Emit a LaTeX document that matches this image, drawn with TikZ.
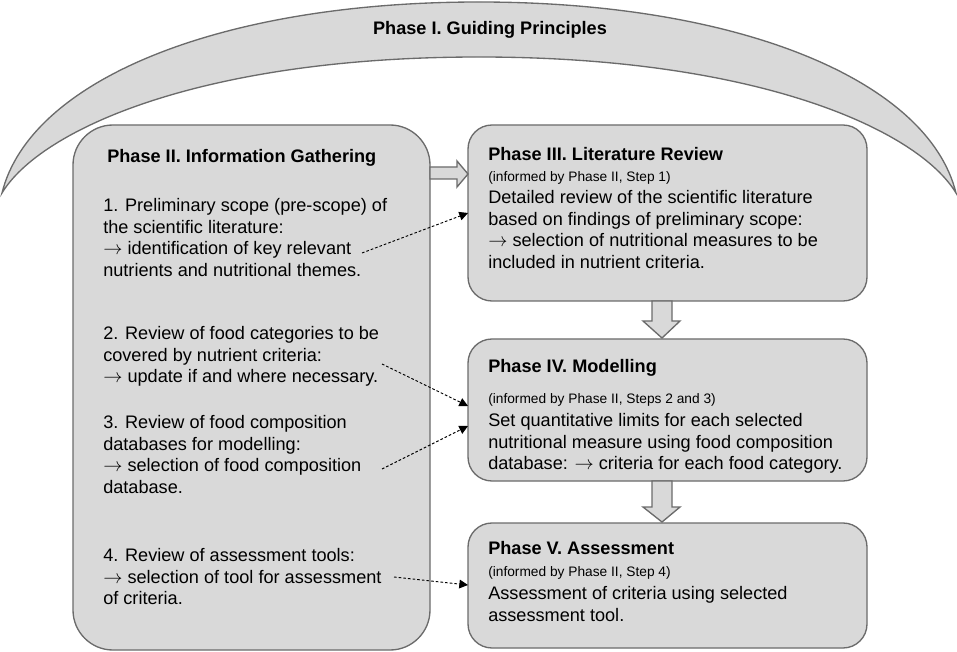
\documentclass[tikz,border=0pt]{standalone}
\usepackage{fontspec}
\setmainfont{Liberation Sans}
\usetikzlibrary{arrows.meta,fit}

\definecolor{boxfill}{gray}{0.85}
\definecolor{boxline}{gray}{0.42}

\newcommand{\leadsarrow}{$\rightarrow$}

\tikzset{
  phasebox/.style={draw=boxline, fill=boxfill, line width=1pt, rounded corners=18pt, inner sep=0pt},
  bigarrow/.style={draw=boxline, fill=boxfill, line width=1pt, line join=miter},
  txt/.style={inner sep=0pt, align=left, font=\fontsize{13.6}{16.2}\selectfont},
  head/.style={inner sep=0pt, font=\fontsize{13.6}{16.2}\selectfont\bfseries},
  note/.style={inner sep=0pt, font=\fontsize{10.3}{12}\selectfont},
  infoarrow/.style={-{Triangle[length=6.5pt,width=6.5pt]}, dash pattern=on 2pt off 1.5pt, line width=0.7pt},
}

\begin{document}
\begin{tikzpicture}[x=0.75pt,y=-0.75pt]
  \useasboundingbox (0,0) rectangle (957,652);

  % Phase I: the arch over everything
  \filldraw[bigarrow] (2,193) .. controls (30,80) and (220,2) .. (479,2)
    .. controls (738,2) and (928,80) .. (956,193)
    .. controls (918,130) and (758,57) .. (479,57)
    .. controls (200,57) and (40,130) .. (2,193) -- cycle;
  \node[head] (p1) at (490,30) {Phase I. Guiding Principles};

  % the boxes
  \node[phasebox, rounded corners=30pt, fit={(73,125) (430,650)}] (p2box) {};
  \node[phasebox, fit={(468,125) (867,301)}] (p3box) {};
  \node[phasebox, fit={(468,339) (867,481)}] (p4box) {};
  \node[phasebox, fit={(468,523) (867,648)}] (p5box) {};

  % block arrows between the phases
  \filldraw[bigarrow] (430,167) -- (457,167) -- (457,161) -- (468,174) -- (457,187) -- (457,179) -- (430,179) -- cycle;
  \filldraw[bigarrow] (652,301) -- (652,321) -- (643,321) -- (662,338) -- (680,321) -- (672,321) -- (672,301) -- cycle;
  \filldraw[bigarrow] (652,481) -- (652,507) -- (643,507) -- (662,522) -- (680,507) -- (672,507) -- (672,481) -- cycle;

  % Phase II
  \node[head, anchor=west] (p2) at (107,158) {Phase II. Information Gathering};
  \node[txt, anchor=north west] (step1) at (103,198) {1. Preliminary scope (pre-scope) of\\the scientific literature:\\\leadsarrow{} identification of key relevant\\nutrients and nutritional themes.};
  \node[txt, anchor=north west] (step2) at (103,326) {2. Review of food categories to be\\covered by nutrient criteria:\\\leadsarrow{} update if and where necessary.};
  \node[txt, anchor=north west] (step3) at (103,415) {3. Review of food composition\\databases for modelling:\\\leadsarrow{} selection of food composition\\database.};
  \node[txt, anchor=north west] (step4) at (103,548) {4. Review of assessment tools:\\\leadsarrow{} selection of tool for assessment\\of criteria.};

  % Phase III
  \node[head, anchor=west] (p3) at (488,154) {Phase III. Literature Review};
  \node[note, anchor=west] (p3note) at (488,178) {(informed by Phase II, Step 1)};
  \node[txt, anchor=north west] (p3text) at (488,190) {Detailed review of the scientific literature\\based on findings of preliminary scope:\\\leadsarrow{} selection of nutritional measures to be\\included in nutrient criteria.};

  % Phase IV
  \node[head, anchor=west] (p4) at (488,368) {Phase IV. Modelling};
  \node[note, anchor=west] (p4note) at (488,400) {(informed by Phase II, Steps 2 and 3)};
  \node[txt, anchor=north west] (p4text) at (488,413) {Set quantitative limits for each selected\\nutritional measure using food composition\\database: \leadsarrow{} criteria for each food category.};

  % Phase V
  \node[head, anchor=west] (p5) at (488,548) {Phase V. Assessment};
  \node[note, anchor=west] (p5note) at (488,573) {(informed by Phase II, Step 4)};
  \node[txt, anchor=north west] (p5text) at (488,586) {Assessment of criteria using selected\\assessment tool.};

  % which step informs which phase
  \coordinate (s1) at (362,253);
  \coordinate (s2) at (382,364);
  \coordinate (s3) at (382,469);
  \coordinate (s4) at (394,577);
  \coordinate (t1) at (468,213);
  \coordinate (t2) at (468,406);
  \coordinate (t3) at (468,426);
  \coordinate (t4) at (468,585);
  \draw[infoarrow] (s1) -- (t1);
  \draw[infoarrow] (s2) -- (t2);
  \draw[infoarrow] (s3) -- (t3);
  \draw[infoarrow] (s4) -- (t4);
\end{tikzpicture}
\end{document}
